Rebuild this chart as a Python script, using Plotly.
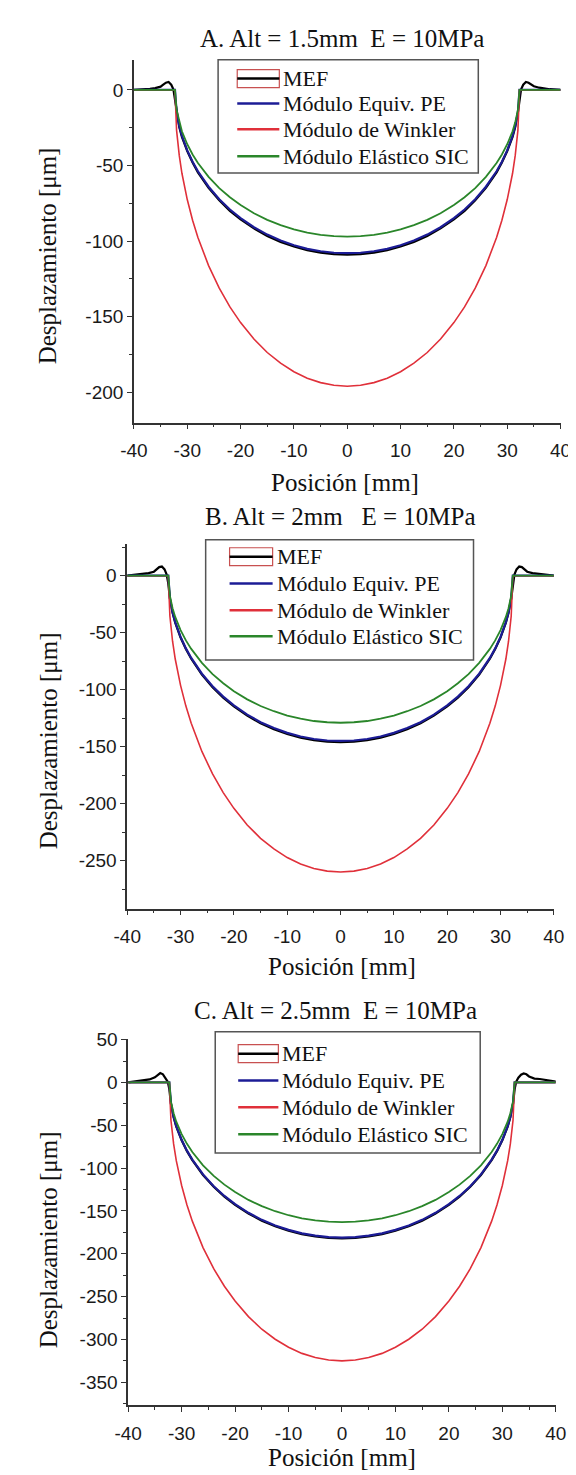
import plotly.graph_objects as go

W, H = 576, 1475

# ---------------- data ----------------
X_MODEL = [-40, -36, -33, -32.3, -32, -31.5, -31, -30, -29, -28, -26, -24, -22, -20, -17.5, -15, -12.5,
           -10, -7.5, -5, -2.5, 0, 2.5, 5, 7.5, 10, 12.5, 15, 17.5, 20, 22, 24, 26, 28, 29, 30, 31,
           31.5, 32, 32.3, 33, 36, 40]
X_MEF = [-40, -38, -37, -36, -35, -34.5, -34, -33.5, -33, -32.6, -32.3, -32, -31.5, -31, -30, -29, -28,
         -26, -24, -22, -20, -17.5, -15, -12.5, -10, -7.5, -5, -2.5, 0, 2.5, 5, 7.5, 10, 12.5, 15, 17.5,
         20, 22, 24, 26, 28, 29, 30, 31, 31.5, 32, 32.3, 32.6, 33, 33.5, 34, 34.5, 35, 36, 37, 38, 40]

A_MEF = [0, 0.3, 0.8, 1.2, 2.2, 3.5, 4.8, 5.3, 3.5, 0.5, -6,
         -15, -24.5, -31, -40.5, -48, -54.5, -64.8, -73, -80, -85.6, -91.6, -96.6, -100.5, -103.6, -106,
         -107.6, -108.6, -109,
         -108.6, -107.6, -106, -103.6, -100.5, -96.6, -91.6, -85.6, -80, -73, -64.8, -54.5, -48, -40.5,
         -31, -24.5, -15,
         -6, 0.5, 3.5, 5.3, 4.8, 3.5, 2.5, 1.5, 1.0, 0.5, 0]
A_PE = [0, 0, 0, 0, -14.7, -23.9, -30.3, -40.0, -47.5, -53.8, -64.0, -72.3, -79.1, -84.8, -90.8, -95.7,
        -99.6, -102.7, -105.1, -106.7, -107.7, -108.0, -107.7, -106.7, -105.1, -102.7, -99.6, -95.7,
        -90.8, -84.8, -79.1, -72.3, -64.0, -53.8, -47.5, -40.0, -30.3, -23.9, -14.7, 0, 0, 0, 0]
A_WINKLER = [0, 0, 0, 0, -26.7, -43.3, -55.1, -72.5, -86.2, -97.6, -116.2, -131.1, -143.5, -153.9,
             -164.8, -173.7, -180.7, -186.4, -190.7, -193.6, -195.4, -196.0, -195.4, -193.6, -190.7,
             -186.4, -180.7, -173.7, -164.8, -153.9, -143.5, -131.1, -116.2, -97.6, -86.2, -72.5, -55.1,
             -43.3, -26.7, 0, 0, 0, 0]
A_SIC = [0, 0, 0, 0, -13.2, -21.4, -27.3, -35.9, -42.7, -48.3, -57.5, -64.9, -71.0, -76.1, -81.6, -85.9,
         -89.4, -92.2, -94.4, -95.8, -96.7, -97.0, -96.7, -95.8, -94.4, -92.2, -89.4, -85.9, -81.6, -76.1,
         -71.0, -64.9, -57.5, -48.3, -42.7, -35.9, -27.3, -21.4, -13.2, 0, 0, 0, 0]

B_MEF = [0, 0.8, 1.5, 2.2, 3.5, 5.5, 7.5, 8, 5.5, 1, -7,
         -20.2, -32.6, -41.3, -54.3, -64.4, -72.9, -86.7, -97.8, -107, -114.7, -122.8, -129.4, -134.7,
         -138.9, -142.1, -144.3, -145.6, -146,
         -145.6, -144.3, -142.1, -138.9, -134.7, -129.4, -122.8, -114.7, -107, -97.8, -86.7, -72.9, -64.4,
         -54.3, -41.3, -32.6, -20.2,
         -7, 1, 5.5, 8, 7.5, 5.5, 3.5, 2.2, 1.5, 0.8, 0]
B_PE = [0, 0, 0, 0, -19.7, -32.0, -40.7, -53.7, -63.8, -72.2, -86.0, -97.0, -106.1, -113.8, -121.9,
        -128.5, -133.7, -137.9, -141.1, -143.3, -144.6, -145.0, -144.6, -143.3, -141.1, -137.9, -133.7,
        -128.5, -121.9, -113.8, -106.1, -97.0, -86.0, -72.2, -63.8, -53.7, -40.7, -32.0, -19.7, 0, 0, 0, 0]
B_WINKLER = [0, 0, 0, 0, -35.4, -57.5, -73.1, -96.2, -114.4, -129.5, -154.2, -173.9, -190.3, -204.1,
             -218.7, -230.4, -239.7, -247.3, -253.0, -256.9, -259.2, -260.0, -259.2, -256.9, -253.0,
             -247.3, -239.7, -230.4, -218.7, -204.1, -190.3, -173.9, -154.2, -129.5, -114.4, -96.2,
             -73.1, -57.5, -35.4, 0, 0, 0, 0]
B_SIC = [0, 0, 0, 0, -17.5, -28.5, -36.2, -47.7, -56.8, -64.2, -76.5, -86.3, -94.4, -101.3, -108.5,
         -114.3, -118.9, -122.7, -125.5, -127.5, -128.6, -129.0, -128.6, -127.5, -125.5, -122.7, -118.9,
         -114.3, -108.5, -101.3, -94.4, -86.3, -76.5, -64.2, -56.8, -47.7, -36.2, -28.5, -17.5, 0, 0, 0, 0]

C_MEF = [0, 1.5, 2.5, 3.5, 6, 9, 10.9, 9.5, 5, 1, -8,
         -25.2, -40.6, -51.5, -67.6, -80.2, -90.7, -108, -121.8, -133.2, -142.9, -153, -161.3, -167.8,
         -173, -177, -179.7, -181.4, -182,
         -181.4, -179.7, -177, -173, -167.8, -161.3, -153, -142.9, -133.2, -121.8, -108, -90.7, -80.2,
         -67.6, -51.5, -40.6, -25.2,
         -8, 1, 5.5, 9, 10.4, 9.5, 7, 4.5, 4, 3, 1]
C_PE = [0, 0, 0, 0, -24.6, -40.0, -50.9, -67.0, -79.6, -90.1, -107.3, -121.1, -132.5, -142.1, -152.2,
        -160.4, -166.9, -172.1, -176.1, -178.8, -180.5, -181.0, -180.5, -178.8, -176.1, -172.1, -166.9,
        -160.4, -152.2, -142.1, -132.5, -121.1, -107.3, -90.1, -79.6, -67.0, -50.9, -40.0, -24.6, 0, 0, 0, 0]
C_WINKLER = [0, 0, 0, 0, -44.2, -71.8, -91.3, -120.3, -143.0, -161.9, -192.7, -217.4, -237.9, -255.1,
             -273.3, -288.0, -299.7, -309.1, -316.2, -321.1, -324.0, -325.0, -324.0, -321.1, -316.2,
             -309.1, -299.7, -288.0, -273.3, -255.1, -237.9, -217.4, -192.7, -161.9, -143.0, -120.3,
             -91.3, -71.8, -44.2, 0, 0, 0, 0]
C_SIC = [0, 0, 0, 0, -22.2, -36.0, -45.8, -60.3, -71.7, -81.2, -96.7, -109.0, -119.3, -128.0, -137.1,
         -144.4, -150.3, -155.0, -158.6, -161.0, -162.5, -163.0, -162.5, -161.0, -158.6, -155.0, -150.3,
         -144.4, -137.1, -128.0, -119.3, -109.0, -96.7, -81.2, -71.7, -60.3, -45.8, -36.0, -22.2, 0, 0, 0, 0]

SERIES_NAMES = ["MEF", "Módulo Equiv. PE", "Módulo de Winkler", "Módulo Elástico SIC"]
TITLES = ["A. Alt = 1.5mm\u00a0\u00a0E = 10MPa", "B. Alt = 2mm\u00a0\u00a0\u00a0E = 10MPa",
          "C. Alt = 2.5mm\u00a0\u00a0E = 10MPa"]
X_TITLE = "Posición [mm]"
Y_TITLE = "Desplazamiento [μm]"
X_TICKS = [-40, -30, -20, -10, 0, 10, 20, 30, 40]
X_TICKTEXT = ["-40", "-30", "-20", "-10", "0", "10", "20", "30", "40"]
Y_TICKS = [
    [0, -50, -100, -150, -200],
    [0, -50, -100, -150, -200, -250],
    [50, 0, -50, -100, -150, -200, -250, -300, -350],
]
Y_TICKTEXT = [
    ["0", "-50", "-100", "-150", "-200"],
    ["0", "-50", "-100", "-150", "-200", "-250"],
    ["50", "0", "-50", "-100", "-150", "-200", "-250", "-300", "-350"],
]
Y_RANGES = [[-220, 20], [-292, 28], [-377, 51]]

# ---------------- styling / layout ----------------
COLORS = ["#000000", "#1c1c96", "#e0303a", "#2a862a"]
WIDTHS = [2.2, 2.2, 1.6, 1.8]
SERIF = "Liberation Serif, Times New Roman, serif"
SANS = "Liberation Sans, Arial, sans-serif"

# pixel geometry of each panel: x-axis left/right, y-axis top/bottom
PANELS = [
    dict(x0=117, x1=563, y0=43, y1=408, title_xy=(334, 22), xt_xy=(338, 468), yt_xy=(27, 240),
         leg=dict(x0=205, x1=477, y0=43, y1=157, rows=[62, 87, 113, 140], s0=225, s1=269, tx=271)),
    dict(x0=110, x1=556, y0=530, y1=897, title_xy=(333, 503), xt_xy=(334, 955), yt_xy=(28, 728),
         leg=dict(x0=192, x1=472, y0=526, y1=647, rows=[543, 570, 597, 623], s0=217, s1=262, tx=264)),
    dict(x0=111, x1=558, y0=1028, y1=1397, title_xy=(328, 1000), xt_xy=(334, 1449), yt_xy=(28, 1230),
         leg=dict(x0=202, x1=479, y0=1021, y1=1143, rows=[1043, 1070, 1097, 1124], s0=226, s1=268, tx=270)),
]

DATA = [
    (A_MEF, A_PE, A_WINKLER, A_SIC),
    (B_MEF, B_PE, B_WINKLER, B_SIC),
    (C_MEF, C_PE, C_WINKLER, C_SIC),
]


def px(x):
    return x / W


def py(y):
    return 1 - y / H


fig = go.Figure()
layout = dict(width=W, height=H, margin=dict(l=0, r=0, t=0, b=0), paper_bgcolor="white",
              plot_bgcolor="white", showlegend=False)
shapes = []
annotations = []

for i, (p, series) in enumerate(zip(PANELS, DATA)):
    n = "" if i == 0 else str(i + 1)
    xa, ya = "x" + n, "y" + n
    for k, vals in enumerate(series):
        xs = X_MEF if k == 0 else X_MODEL
        fig.add_trace(go.Scatter(x=xs, y=vals, mode="lines", name=SERIES_NAMES[k],
                                 line=dict(color=COLORS[k], width=WIDTHS[k]),
                                 xaxis=xa, yaxis=ya, showlegend=False))
    axis_common = dict(showline=True, linecolor="#333333", linewidth=1.5, showgrid=False,
                       zeroline=False, ticks="outside", tickcolor="#333333", tickwidth=1.3, ticklen=5,
                       tickfont=dict(family=SANS, size=19, color="#1a1a1a"))
    layout["xaxis" + n] = dict(axis_common, domain=[px(p["x0"]), px(p["x1"])], anchor=ya,
                               range=[-40, 40], tickvals=X_TICKS, ticktext=X_TICKTEXT,
                               ticklabelstandoff=5,
                               minor=dict(dtick=5, ticks="outside", ticklen=3, tickcolor="#333333"))
    layout["yaxis" + n] = dict(axis_common, domain=[py(p["y1"]), py(p["y0"])], anchor=xa,
                               range=Y_RANGES[i], tickvals=Y_TICKS[i], ticktext=Y_TICKTEXT[i],
                               minor=dict(dtick=25, ticks="outside", ticklen=3, tickcolor="#333333"))

    # titles
    annotations.append(dict(text=TITLES[i], x=px(p["title_xy"][0]), y=py(p["title_xy"][1]),
                            xref="paper", yref="paper", showarrow=False, xanchor="center",
                            yanchor="middle", font=dict(family=SERIF, size=25, color="#111")))
    annotations.append(dict(text=X_TITLE, x=px(p["xt_xy"][0]), y=py(p["xt_xy"][1]),
                            xref="paper", yref="paper", showarrow=False, xanchor="center",
                            yanchor="middle", font=dict(family=SERIF, size=25, color="#111")))
    annotations.append(dict(text=Y_TITLE, x=px(p["yt_xy"][0]), y=py(p["yt_xy"][1]),
                            xref="paper", yref="paper", showarrow=False, xanchor="center",
                            yanchor="middle", textangle=-90,
                            font=dict(family=SERIF, size=25, color="#111")))

    # custom legend box
    lg = p["leg"]
    shapes.append(dict(type="rect", xref="paper", yref="paper", x0=px(lg["x0"]), x1=px(lg["x1"]),
                       y0=py(lg["y1"]), y1=py(lg["y0"]), line=dict(color="#555555", width=1.5),
                       fillcolor="white", layer="above"))
    for k, ry in enumerate(lg["rows"]):
        if k == 0:
            shapes.append(dict(type="rect", xref="paper", yref="paper", x0=px(lg["s0"]), x1=px(lg["s1"]),
                               y0=py(ry + 9), y1=py(ry - 9), line=dict(color="#c85050", width=1.2),
                               fillcolor="white", layer="above"))
        shapes.append(dict(type="line", xref="paper", yref="paper", x0=px(lg["s0"]), x1=px(lg["s1"]),
                           y0=py(ry), y1=py(ry), line=dict(color=COLORS[k], width=2.5), layer="above"))
        annotations.append(dict(text=SERIES_NAMES[k], x=px(lg["tx"]), y=py(ry), xref="paper",
                                yref="paper", showarrow=False, xanchor="left", yanchor="middle",
                                font=dict(family=SERIF, size=22, color="#111")))

layout["shapes"] = shapes
layout["annotations"] = annotations
fig.update_layout(**layout)
fig.write_html("out.html")
